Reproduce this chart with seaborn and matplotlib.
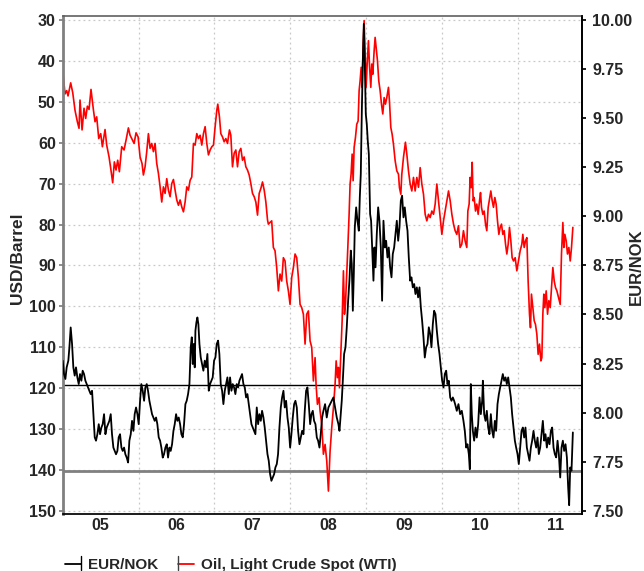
import matplotlib
matplotlib.use("Agg")
import matplotlib.pyplot as plt
import seaborn as sns
import pandas as pd
from matplotlib.lines import Line2D
from matplotlib.legend_handler import HandlerBase
from matplotlib.ticker import FixedLocator, NullFormatter, FixedFormatter, FuncFormatter

sns.set_theme(style="white")
plt.rcParams['font.family'] = ['Liberation Sans', 'DejaVu Sans']
plt.rcParams['font.weight'] = 'bold'

# ---------------- data ----------------
oil_year = [
    2005.000, 2005.030, 2005.052, 2005.070, 2005.105, 2005.132, 2005.162, 2005.193, 2005.215, 2005.228,
    2005.255, 2005.281, 2005.303, 2005.325, 2005.347, 2005.373, 2005.404, 2005.426, 2005.448, 2005.475,
    2005.501, 2005.523, 2005.558, 2005.580, 2005.611, 2005.633, 2005.659, 2005.681, 2005.703, 2005.725,
    2005.747, 2005.778, 2005.809, 2005.835, 2005.866, 2005.888, 2005.910, 2005.941, 2005.967, 2005.994,
    2006.020, 2006.046, 2006.064, 2006.086, 2006.108, 2006.130, 2006.152, 2006.174, 2006.196, 2006.218,
    2006.240, 2006.262, 2006.284, 2006.306, 2006.328, 2006.350, 2006.372, 2006.394, 2006.416, 2006.438,
    2006.460, 2006.482, 2006.504, 2006.526, 2006.548, 2006.570, 2006.592, 2006.614, 2006.636, 2006.658,
    2006.680, 2006.702, 2006.724, 2006.746, 2006.768, 2006.790, 2006.812, 2006.834, 2006.856, 2006.878,
    2006.900, 2006.922, 2006.944, 2006.966, 2006.988, 2007.010, 2007.032, 2007.045, 2007.067, 2007.085,
    2007.107, 2007.129, 2007.151, 2007.173, 2007.199, 2007.217, 2007.239, 2007.261, 2007.283, 2007.305,
    2007.327, 2007.349, 2007.371, 2007.393, 2007.415, 2007.437, 2007.459, 2007.481, 2007.503, 2007.525,
    2007.547, 2007.569, 2007.591, 2007.613, 2007.635, 2007.657, 2007.679, 2007.701, 2007.712, 2007.734,
    2007.756, 2007.778, 2007.800, 2007.822, 2007.844, 2007.866, 2007.888, 2007.910, 2007.932, 2007.954,
    2007.976, 2007.998, 2008.020, 2008.042, 2008.064, 2008.086, 2008.108, 2008.130, 2008.152, 2008.174,
    2008.196, 2008.218, 2008.240, 2008.262, 2008.284, 2008.306, 2008.328, 2008.341, 2008.359, 2008.381,
    2008.394, 2008.416, 2008.438, 2008.460, 2008.482, 2008.504, 2008.526, 2008.548, 2008.570, 2008.592,
    2008.606, 2008.623, 2008.636, 2008.650, 2008.667, 2008.685, 2008.702, 2008.716, 2008.729, 2008.746,
    2008.760, 2008.777, 2008.790, 2008.803, 2008.817, 2008.830, 2008.843, 2008.861, 2008.878, 2008.896,
    2008.909, 2008.922, 2008.936, 2008.949, 2008.962, 2008.975, 2008.988, 2009.001, 2009.015, 2009.032,
    2009.045, 2009.063, 2009.076, 2009.089, 2009.107, 2009.120, 2009.133, 2009.151, 2009.168, 2009.186,
    2009.204, 2009.221, 2009.239, 2009.256, 2009.274, 2009.296, 2009.309, 2009.327, 2009.344, 2009.362,
    2009.384, 2009.406, 2009.428, 2009.441, 2009.459, 2009.472, 2009.494, 2009.520, 2009.538, 2009.560,
    2009.582, 2009.604, 2009.626, 2009.648, 2009.670, 2009.692, 2009.714, 2009.736, 2009.758, 2009.780,
    2009.802, 2009.824, 2009.846, 2009.868, 2009.890, 2009.912, 2009.934, 2009.956, 2009.978, 2010.000,
    2010.022, 2010.044, 2010.066, 2010.088, 2010.110, 2010.132, 2010.154, 2010.175, 2010.197, 2010.219,
    2010.241, 2010.263, 2010.285, 2010.307, 2010.329, 2010.343, 2010.360, 2010.373, 2010.387, 2010.400,
    2010.413, 2010.426, 2010.444, 2010.461, 2010.479, 2010.497, 2010.510, 2010.523, 2010.540, 2010.558,
    2010.576, 2010.593, 2010.611, 2010.628, 2010.646, 2010.664, 2010.681, 2010.699, 2010.716, 2010.734,
    2010.752, 2010.769, 2010.787, 2010.804, 2010.822, 2010.840, 2010.857, 2010.875, 2010.892, 2010.910,
    2010.927, 2010.945, 2010.967, 2010.989, 2011.011, 2011.033, 2011.055, 2011.068, 2011.086, 2011.103,
    2011.121, 2011.138, 2011.156, 2011.169, 2011.182, 2011.200, 2011.218, 2011.235, 2011.253, 2011.270,
    2011.288, 2011.306, 2011.319, 2011.332, 2011.345, 2011.358, 2011.376, 2011.394, 2011.411, 2011.429,
    2011.446, 2011.464, 2011.482, 2011.499, 2011.517, 2011.539, 2011.561, 2011.578, 2011.596, 2011.609,
    2011.622, 2011.640, 2011.657, 2011.675, 2011.693, 2011.710, 2011.728,
]
oil_usd = [
    42.3, 48.1, 47.3, 48.6, 45.4, 47.8, 52.1, 54.9, 56.5, 49.6,
    56.9, 51.6, 54.1, 51.1, 51.9, 47.0, 51.9, 54.9, 53.7, 59.0,
    57.8, 61.0, 56.8, 60.6, 63.5, 66.3, 69.8, 64.7, 66.7, 64.3,
    67.1, 61.0, 61.8, 59.4, 56.4, 58.2, 59.0, 60.2, 57.6, 58.6,
    63.5, 65.1, 67.9, 65.9, 62.2, 57.8, 61.4, 60.2, 62.2, 60.2,
    65.1, 67.5, 70.8, 74.5, 70.8, 72.4, 68.8, 71.6, 73.2, 70.0,
    69.0, 71.6, 74.0, 75.3, 74.0, 75.7, 76.9, 74.5, 70.8, 71.6,
    69.2, 68.4, 60.2, 60.6, 57.8, 59.0, 58.2, 60.6, 57.8, 56.1,
    60.2, 63.0, 61.8, 61.0, 60.6, 56.1, 52.1, 50.6, 53.7, 57.8,
    58.6, 59.8, 59.0, 60.2, 56.9, 58.2, 65.9, 62.6, 61.8, 65.9,
    62.2, 61.4, 64.3, 63.5, 65.9, 66.7, 67.9, 70.0, 72.4, 73.2,
    74.5, 77.7, 72.4, 71.2, 69.6, 71.6, 74.5, 78.9, 79.9, 79.5,
    79.1, 85.6, 86.4, 90.5, 96.2, 92.1, 93.8, 88.1, 88.9, 93.8,
    96.2, 99.5, 92.9, 90.5, 87.2, 88.1, 92.9, 99.5, 100.3, 101.9,
    109.2, 101.9, 101.1, 108.4, 110.0, 118.2, 112.5, 119.0, 123.9, 122.3,
    125.5, 128.8, 136.1, 133.7, 137.7, 145.1, 135.3, 129.6, 124.7, 119.0,
    113.3, 117.4, 114.9, 119.8, 111.7, 103.5, 91.3, 101.9, 99.4, 92.1,
    85.6, 77.5, 70.1, 67.7, 62.8, 69.3, 61.2, 58.7, 55.5, 54.7,
    47.3, 44.9, 41.6, 46.5, 35.9, 30.2, 38.4, 46.5, 40.8, 35.1,
    40.8, 46.5, 40.8, 43.3, 37.6, 34.3, 36.8, 40.0, 44.9, 47.3,
    50.6, 53.0, 49.0, 50.6, 49.0, 46.5, 49.8, 56.3, 57.9, 60.4,
    64.4, 66.9, 67.7, 71.0, 72.6, 67.7, 63.6, 59.9, 62.8, 66.9,
    70.1, 71.8, 68.5, 71.8, 68.5, 70.9, 66.1, 70.1, 72.6, 77.5,
    79.1, 77.5, 78.3, 76.7, 77.5, 75.0, 70.1, 74.2, 78.3, 82.4,
    79.1, 76.7, 74.2, 71.8, 74.2, 77.5, 79.9, 81.5, 82.4, 80.3,
    85.6, 84.8, 81.5, 84.0, 85.6, 76.7, 75.0, 68.5, 71.0, 64.8,
    74.2, 73.4, 76.7, 75.0, 77.5, 74.2, 72.2, 75.8, 77.5, 76.7,
    79.9, 81.5, 75.8, 73.8, 71.8, 74.2, 75.8, 73.4, 75.0, 79.1,
    82.4, 80.7, 79.9, 82.4, 81.5, 84.8, 87.2, 84.8, 80.7, 84.0,
    88.1, 88.9, 88.1, 91.3, 88.9, 86.4, 84.8, 82.4, 85.6, 84.0,
    83.2, 93.8, 101.9, 105.2, 97.0, 100.3, 103.5, 104.4, 106.8, 111.7,
    109.2, 113.3, 112.5, 101.9, 97.0, 100.3, 96.2, 101.9, 98.6, 100.3,
    95.4, 90.5, 93.8, 95.4, 96.2, 97.8, 99.5, 87.2, 79.5, 85.6,
    82.4, 84.0, 87.2, 85.6, 88.9, 85.6, 80.7,
]

nok_year = [
    2005.000, 2005.017, 2005.035, 2005.052, 2005.074, 2005.088, 2005.105, 2005.123, 2005.140, 2005.158,
    2005.175, 2005.193, 2005.211, 2005.228, 2005.246, 2005.263, 2005.281, 2005.299, 2005.316, 2005.334,
    2005.351, 2005.369, 2005.387, 2005.404, 2005.422, 2005.439, 2005.457, 2005.475, 2005.492, 2005.510,
    2005.527, 2005.545, 2005.563, 2005.580, 2005.598, 2005.615, 2005.633, 2005.650, 2005.668, 2005.686,
    2005.703, 2005.721, 2005.738, 2005.756, 2005.774, 2005.791, 2005.809, 2005.826, 2005.844, 2005.862,
    2005.879, 2005.897, 2005.914, 2005.932, 2005.949, 2005.967, 2005.985, 2006.002, 2006.020, 2006.037,
    2006.055, 2006.073, 2006.090, 2006.108, 2006.125, 2006.143, 2006.160, 2006.178, 2006.196, 2006.213,
    2006.231, 2006.248, 2006.266, 2006.284, 2006.301, 2006.319, 2006.336, 2006.354, 2006.372, 2006.389,
    2006.407, 2006.424, 2006.442, 2006.460, 2006.477, 2006.495, 2006.512, 2006.530, 2006.548, 2006.565,
    2006.583, 2006.600, 2006.618, 2006.635, 2006.653, 2006.671, 2006.688, 2006.702, 2006.715, 2006.728,
    2006.741, 2006.750, 2006.763, 2006.776, 2006.789, 2006.803, 2006.820, 2006.838, 2006.855, 2006.873,
    2006.890, 2006.908, 2006.926, 2006.943, 2006.961, 2006.978, 2006.996, 2007.014, 2007.031, 2007.049,
    2007.066, 2007.084, 2007.102, 2007.119, 2007.137, 2007.154, 2007.172, 2007.190, 2007.207, 2007.225,
    2007.242, 2007.260, 2007.277, 2007.295, 2007.313, 2007.330, 2007.348, 2007.365, 2007.383, 2007.401,
    2007.418, 2007.436, 2007.453, 2007.471, 2007.489, 2007.506, 2007.524, 2007.541, 2007.559, 2007.577,
    2007.594, 2007.612, 2007.629, 2007.647, 2007.664, 2007.682, 2007.700, 2007.717, 2007.735, 2007.752,
    2007.770, 2007.788, 2007.805, 2007.823, 2007.840, 2007.858, 2007.876, 2007.893, 2007.911, 2007.928,
    2007.946, 2007.964, 2007.981, 2007.999, 2008.016, 2008.034, 2008.052, 2008.069, 2008.087, 2008.104,
    2008.122, 2008.139, 2008.157, 2008.175, 2008.192, 2008.210, 2008.227, 2008.245, 2008.263, 2008.280,
    2008.298, 2008.315, 2008.333, 2008.351, 2008.368, 2008.386, 2008.403, 2008.421, 2008.438, 2008.460,
    2008.482, 2008.504, 2008.526, 2008.548, 2008.570, 2008.592, 2008.614, 2008.636, 2008.650, 2008.667,
    2008.680, 2008.694, 2008.711, 2008.729, 2008.746, 2008.764, 2008.781, 2008.799, 2008.812, 2008.826,
    2008.839, 2008.852, 2008.870, 2008.887, 2008.905, 2008.918, 2008.931, 2008.944, 2008.957, 2008.971,
    2008.984, 2008.997, 2009.010, 2009.023, 2009.037, 2009.054, 2009.067, 2009.081, 2009.098, 2009.111,
    2009.125, 2009.142, 2009.160, 2009.177, 2009.195, 2009.212, 2009.230, 2009.248, 2009.265, 2009.283,
    2009.300, 2009.318, 2009.336, 2009.353, 2009.371, 2009.388, 2009.406, 2009.424, 2009.441, 2009.459,
    2009.476, 2009.494, 2009.511, 2009.529, 2009.547, 2009.564, 2009.582, 2009.599, 2009.617, 2009.635,
    2009.652, 2009.670, 2009.687, 2009.705, 2009.723, 2009.740, 2009.758, 2009.775, 2009.793, 2009.811,
    2009.828, 2009.846, 2009.863, 2009.881, 2009.898, 2009.916, 2009.934, 2009.951, 2009.969, 2009.986,
    2010.004, 2010.022, 2010.039, 2010.057, 2010.074, 2010.092, 2010.110, 2010.127, 2010.145, 2010.162,
    2010.175, 2010.197, 2010.219, 2010.241, 2010.263, 2010.285, 2010.303, 2010.321, 2010.338, 2010.356,
    2010.369, 2010.382, 2010.395, 2010.409, 2010.426, 2010.444, 2010.461, 2010.479, 2010.497, 2010.514,
    2010.532, 2010.541, 2010.558, 2010.576, 2010.593, 2010.611, 2010.628, 2010.646, 2010.664, 2010.681,
    2010.699, 2010.716, 2010.734, 2010.752, 2010.769, 2010.787, 2010.804, 2010.822, 2010.840, 2010.857,
    2010.875, 2010.892, 2010.910, 2010.927, 2010.945, 2010.963, 2010.980, 2010.998, 2011.015, 2011.033,
    2011.051, 2011.068, 2011.086, 2011.103, 2011.121, 2011.138, 2011.156, 2011.174, 2011.191, 2011.209,
    2011.226, 2011.244, 2011.262, 2011.279, 2011.297, 2011.314, 2011.332, 2011.350, 2011.367, 2011.385,
    2011.402, 2011.420, 2011.438, 2011.455, 2011.473, 2011.490, 2011.508, 2011.526, 2011.543, 2011.561,
    2011.578, 2011.596, 2011.613, 2011.631, 2011.649, 2011.666, 2011.679, 2011.693, 2011.710, 2011.728,
]
eur_nok = [
    8.265, 8.197, 8.172, 8.231, 8.265, 8.333, 8.434, 8.350, 8.231, 8.189,
    8.231, 8.180, 8.146, 8.197, 8.163, 8.214, 8.197, 8.163, 8.146, 8.129,
    8.112, 8.095, 8.112, 7.993, 7.875, 7.858, 7.891, 7.942, 7.891, 7.925,
    7.942, 7.993, 7.891, 7.925, 7.942, 7.959, 7.993, 7.891, 7.823, 7.806,
    7.789, 7.806, 7.875, 7.891, 7.823, 7.806, 7.823, 7.789, 7.772, 7.747,
    7.858, 7.891, 7.959, 7.908, 7.993, 8.027, 7.993, 7.942, 8.061, 8.146,
    8.112, 8.061, 8.129, 8.146, 8.112, 8.061, 8.027, 7.993, 7.976, 7.959,
    7.976, 7.942, 7.875, 7.858, 7.823, 7.772, 7.789, 7.823, 7.840, 7.772,
    7.823, 7.806, 7.840, 7.908, 7.942, 7.993, 7.959, 7.976, 7.942, 7.891,
    7.875, 7.942, 8.044, 8.061, 8.095, 8.146, 8.333, 8.384, 8.248, 8.350,
    8.231, 8.417, 8.460, 8.485, 8.451, 8.350, 8.282, 8.248, 8.214, 8.265,
    8.231, 8.299, 8.112, 8.146, 8.163, 8.180, 8.265, 8.282, 8.350, 8.367,
    8.299, 8.146, 8.112, 8.044, 8.112, 8.146, 8.180, 8.095, 8.180, 8.112,
    8.146, 8.129, 8.095, 8.146, 8.129, 8.163, 8.180, 8.197, 8.146, 8.129,
    8.078, 8.095, 8.044, 7.993, 7.942, 7.925, 7.908, 7.891, 8.027, 7.942,
    7.993, 7.959, 8.010, 7.976, 7.925, 7.858, 7.790, 7.756, 7.688, 7.654,
    7.671, 7.688, 7.722, 7.739, 7.790, 7.925, 8.027, 8.078, 8.112, 8.027,
    8.061, 7.976, 7.925, 7.823, 7.891, 7.976, 8.044, 8.061, 8.027, 7.908,
    7.840, 7.874, 7.908, 7.891, 8.010, 8.112, 8.129, 8.044, 7.942, 7.993,
    8.010, 7.959, 7.942, 7.874, 7.858, 7.823, 7.891, 7.976, 8.010, 8.044,
    7.976, 8.027, 8.044, 8.061, 8.078, 8.027, 7.976, 7.942, 7.908, 7.993,
    8.061, 8.163, 8.299, 8.333, 8.435, 8.570, 8.672, 8.825, 8.757, 8.519,
    8.706, 8.943, 9.045, 8.977, 8.926, 9.096, 9.215, 9.520, 9.775, 9.978,
    9.775, 9.520, 9.469, 9.384, 9.316, 9.011, 8.977, 8.841, 8.672, 8.841,
    8.740, 8.909, 9.045, 8.977, 8.841, 8.570, 8.977, 8.841, 8.875, 8.790,
    8.841, 8.740, 8.689, 8.808, 8.841, 8.909, 8.977, 8.875, 8.943, 9.079,
    9.104, 8.994, 9.045, 8.977, 8.926, 8.790, 8.672, 8.689, 8.638, 8.655,
    8.604, 8.638, 8.587, 8.638, 8.536, 8.468, 8.383, 8.281, 8.333, 8.350,
    8.435, 8.401, 8.333, 8.451, 8.519, 8.502, 8.417, 8.350, 8.299, 8.231,
    8.163, 8.129, 8.197, 8.214, 8.146, 8.163, 8.078, 8.061, 8.078, 8.061,
    8.044, 8.010, 8.044, 7.993, 8.010, 7.959, 7.908, 7.823, 7.840, 7.789,
    7.713, 8.146, 7.993, 7.908, 7.858, 7.925, 7.874, 7.942, 8.078, 7.993,
    8.061, 8.163, 7.993, 7.959, 8.010, 7.925, 7.891, 7.993, 7.908, 7.874,
    7.959, 7.908, 8.044, 8.095, 8.129, 8.163, 8.197, 8.163, 8.180, 8.146,
    8.180, 8.129, 8.078, 7.993, 7.925, 7.858, 7.823, 7.790, 7.739, 7.823,
    7.908, 7.925, 7.874, 7.925, 7.823, 7.790, 7.756, 7.823, 7.858, 7.908,
    7.858, 7.823, 7.874, 7.790, 7.823, 7.891, 7.959, 7.858, 7.891, 7.823,
    7.874, 7.840, 7.908, 7.925, 7.823, 7.790, 7.773, 7.858, 7.790, 7.671,
    7.823, 7.858, 7.806, 7.840, 7.773, 7.620, 7.530, 7.722, 7.705, 7.900,
]

year_labels = ["05", "06", "07", "08", "09", "10", "11"]
oil_ticks = list(range(30, 151, 10))
nok_ticks = [7.50, 7.75, 8.00, 8.25, 8.50, 8.75, 9.00, 9.25, 9.50, 9.75, 10.00]
ref_lines_usd = [119.3, 140.2]
series_names = ["EUR/NOK", "Oil, Light Crude Spot (WTI)"]


class BarLineHandler(HandlerBase):
    """Legend key: short line with a small vertical bar at one end."""
    def __init__(self, line_color, bar_color, bar_side):
        super().__init__()
        self.line_color = line_color
        self.bar_color = bar_color
        self.bar_side = bar_side

    def create_artists(self, legend, orig_handle, xdescent, ydescent,
                       width, height, fontsize, trans):
        y = height / 2.0 - ydescent
        x0, x1 = -xdescent, width - xdescent
        line = Line2D([x0, x1], [y, y], color=self.line_color, lw=1.3, transform=trans)
        bx = x1 if self.bar_side == "right" else x0
        bar = Line2D([bx, bx], [y - height * 0.55, y + height * 0.75],
                     color=self.bar_color, lw=1.0, transform=trans)
        return [line, bar]


# ---------------- figure ----------------
fig = plt.figure(figsize=(6.44, 5.71), dpi=100)
ax = fig.add_axes([0.0974, 0.0998, 0.8071, 0.8727])
ax2 = ax.twinx()

oil_df = pd.DataFrame({"year": oil_year, "usd": oil_usd})
nok_df = pd.DataFrame({"year": nok_year, "nok": eur_nok})

sns.lineplot(data=oil_df, x="year", y="usd", ax=ax, color="#ff0000", lw=1.2,
             estimator=None, sort=False, legend=False)
sns.lineplot(data=nok_df, x="year", y="nok", ax=ax2, color="#000000", lw=1.3,
             estimator=None, sort=False, legend=False)

ax.axhline(ref_lines_usd[0], color="#000000", lw=1.0, zorder=1)
ax.axhline(ref_lines_usd[1], color="#808080", lw=2.0, zorder=1)

ax.set_xlim(2005.0, 2011.855)
ax.set_ylim(150.7, 29.0)
ax2.set_ylim(7.485, 10.02)

years = list(range(2005, 2012))
ax.xaxis.set_major_locator(FixedLocator(years))
ax.xaxis.set_major_formatter(NullFormatter())
ax.xaxis.set_minor_locator(FixedLocator([y + 0.5 for y in years]))
ax.xaxis.set_minor_formatter(FixedFormatter(year_labels))
ax.tick_params(axis="x", which="major", direction="out", length=3, color="#000000")
ax.tick_params(axis="x", which="minor", length=0, pad=3, labelsize=11.5)

ax.yaxis.set_major_locator(FixedLocator(oil_ticks))
ax.tick_params(axis="y", direction="out", length=3, pad=2, labelsize=11.5, color="#808080")
ax2.yaxis.set_major_locator(FixedLocator(nok_ticks))
ax2.yaxis.set_major_formatter(FuncFormatter(lambda v, p: f"{v:.2f}"))
ax2.tick_params(axis="y", direction="out", length=3, pad=4, labelsize=11.5, color="#000000")

ax.grid(True, which="major", axis="both", color="#c8c8c8", lw=0.9, linestyle=(0, (1.5, 2.5)))
ax2.grid(False)

ax.set_xlabel("")
ax.set_ylabel("")
ax2.set_ylabel("")
fig.text(18 / 644, 1 - 258 / 571, "USD/Barrel", rotation=90, ha="center", va="center",
         fontsize=12.5, fontweight="bold")
fig.text(636 / 644, 1 - 267 / 571, "EUR/NOK", rotation=90, ha="center", va="center",
         fontsize=12, fontweight="bold")

for side, sp in ax.spines.items():
    sp.set_visible(True)
ax.spines["left"].set_color("#808080")
ax.spines["left"].set_linewidth(2.0)
ax.spines["top"].set_color("#606060")
ax.spines["top"].set_linewidth(1.2)
ax.spines["bottom"].set_color("#000000")
ax.spines["right"].set_color("#000000")
ax2.spines["right"].set_color("#000000")
ax2.spines["left"].set_visible(False)
ax2.spines["top"].set_visible(False)
ax2.spines["bottom"].set_visible(False)

h_nok = Line2D([], [], color="#000000")
h_oil = Line2D([], [], color="#ff0000")
fig.legend([h_nok, h_oil], series_names, loc="lower left",
           bbox_to_anchor=(0.079, -0.026), ncol=2, frameon=False, handlelength=1.05,
           handletextpad=0.45, columnspacing=1.3, prop={"size": 11, "weight": "bold"},
           handler_map={h_nok: BarLineHandler("#000000", "#000000", "right"),
                        h_oil: BarLineHandler("#ff0000", "#404040", "left")})

fig.savefig("out.png", dpi=100)
